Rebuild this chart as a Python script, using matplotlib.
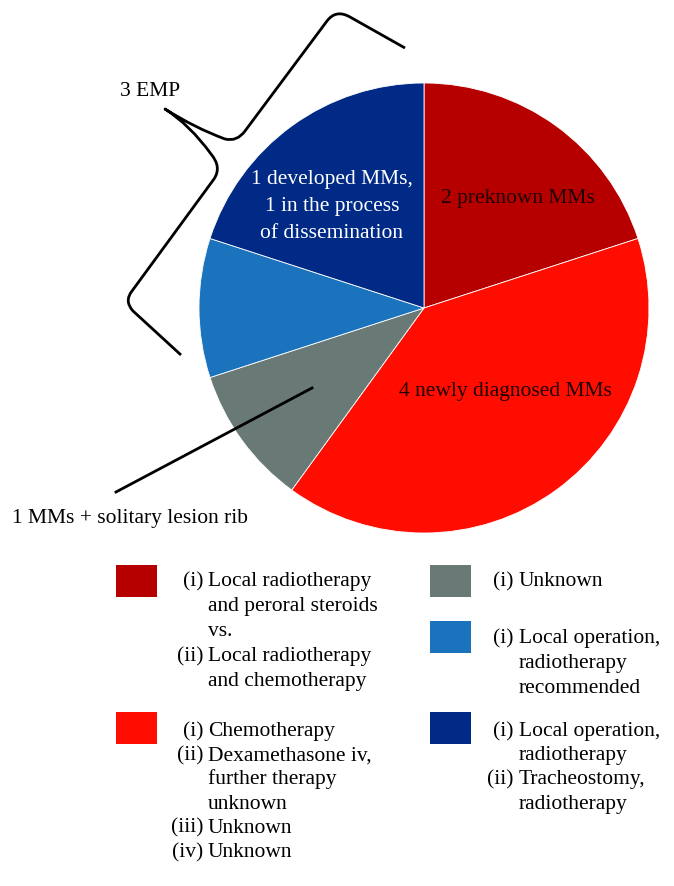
import matplotlib
matplotlib.use("Agg")
import matplotlib.pyplot as plt
from matplotlib.path import Path
from matplotlib.patches import PathPatch, Rectangle
from matplotlib.lines import Line2D

plt.rcParams['font.family'] = ['Liberation Serif', 'DejaVu Serif']

# ---------------- data ----------------
slice_values = [2, 4, 1, 1, 2]
slice_colors = ['#B60000', '#FF0D00', '#687976', '#1C73BD', '#002A85']
slice_labels = ['2 preknown MMs', '4 newly diagnosed MMs', '', '',
                '1 developed MMs,\n1 in the process\nof dissemination']
label_colors = ['#200000', '#200000', 'black', 'black', 'white']

legend_dark_red = [("(i)", "Local radiotherapy"), ("", "and peroral steroids"), ("", "vs."),
                   ("(ii)", "Local radiotherapy"), ("", "and chemotherapy")]
legend_red = [("(i)", "Chemotherapy"), ("(ii)", "Dexamethasone iv,"), ("", "further therapy"),
              ("", "unknown"), ("(iii)", "Unknown"), ("(iv)", "Unknown")]
legend_gray = [("(i)", "Unknown")]
legend_blue = [("(i)", "Local operation,"), ("", "radiotherapy"), ("", "recommended")]
legend_navy = [("(i)", "Local operation,"), ("", "radiotherapy"),
               ("(ii)", "Tracheostomy,"), ("", "radiotherapy")]

emp_label = "3 EMP"
rib_label = "1 MMs + solitary lesion rib"

# ---------------- figure ----------------
W, H = 674, 886
fig = plt.figure(figsize=(W / 100, H / 100), dpi=100)
FS = 15.5


def fx(x):
    return x / W


def fy(y):
    return 1 - y / H


# pie
cx, cy, r = 424, 308, 225
ax = fig.add_axes([fx(cx - r), fy(cy + r), 2 * r / W, 2 * r / H])
wedges, _ = ax.pie(slice_values, colors=slice_colors, startangle=90, counterclock=False,
                   radius=1, wedgeprops=dict(edgecolor='white', linewidth=0.6))
ax.set_xlim(-1, 1)
ax.set_ylim(-1, 1)
ax.set_aspect('equal')
ax.axis('off')

# pie labels (pixel positions of text centres, one line at a time)
label_pos = [(518, 197), (505, 390), None, None, (332, 205)]
line_step = 27
for lab, col, pos in zip(slice_labels, label_colors, label_pos):
    if pos is None or not lab:
        continue
    lines = lab.split('\n')
    n = len(lines)
    for i, line in enumerate(lines):
        yc = pos[1] + (i - (n - 1) / 2) * line_step
        fig.text(fx(pos[0]), fy(yc + 6), line, ha='center', va='baseline', color=col,
                 fontsize=FS)

# brace around EMP slices
verts = [(405, 48), (350, 17), (336, 9), (327, 21), (245, 131), (237, 142), (225, 139),
         (195, 128), (165, 109),
         (190, 125), (211, 154), (222, 167), (214, 179), (132, 291), (124, 301), (133, 311),
         (181, 355)]
codes = [Path.MOVETO, Path.LINETO, Path.CURVE3, Path.CURVE3, Path.LINETO, Path.CURVE3, Path.CURVE3,
         Path.CURVE3, Path.CURVE3,
         Path.CURVE3, Path.CURVE3, Path.CURVE3, Path.CURVE3, Path.LINETO, Path.CURVE3, Path.CURVE3,
         Path.LINETO]
path = Path([(fx(x), fy(y)) for x, y in verts], codes)
fig.add_artist(PathPatch(path, transform=fig.transFigure, facecolor='none', edgecolor='black',
                         linewidth=2.0, capstyle='butt', joinstyle='round'))
fig.text(fx(150), fy(96), emp_label, ha='center', va='baseline', fontsize=FS)

# leader line for gray slice
fig.add_artist(Line2D([fx(312), fx(116)], [fy(388), fy(492)], transform=fig.transFigure,
                      color='black', linewidth=2.0))
fig.text(fx(12), fy(523), rib_label, ha='left', va='baseline', fontsize=FS)

# ---------------- legend ----------------
def legend_block(color, items, sq_x, sq_top, num_right, text_x, first_y, step):
    fig.add_artist(Rectangle((fx(sq_x), fy(sq_top + 32)), 41 / W, 32 / H,
                             transform=fig.transFigure, facecolor=color, edgecolor='none'))
    for i, (num, txt) in enumerate(items):
        yb = first_y + i * step + 6
        if num:
            fig.text(fx(num_right), fy(yb), num, ha='right', va='baseline', fontsize=FS)
        fig.text(fx(text_x), fy(yb), txt, ha='left', va='baseline', fontsize=FS)


legend_block(slice_colors[0], legend_dark_red, 116, 565, 203, 208, 580, 25)
legend_block(slice_colors[1], legend_red, 116, 712, 203, 208, 730, 24.2)
legend_block(slice_colors[2], legend_gray, 430, 565, 514, 519, 580, 25)
legend_block(slice_colors[3], legend_blue, 430, 621, 514, 519, 637, 25)
legend_block(slice_colors[4], legend_navy, 430, 712, 514, 519, 730, 24.2)

fig.savefig("out.png", dpi=100, facecolor='white')
